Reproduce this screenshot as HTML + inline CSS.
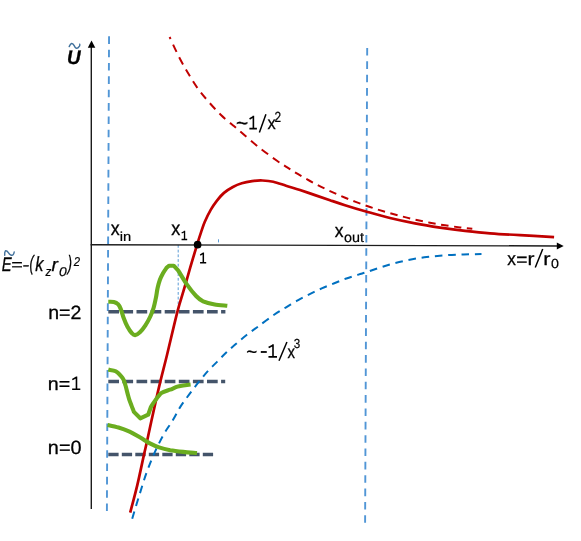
<!DOCTYPE html>
<html><head><meta charset="utf-8"><title>Potential diagram</title>
<style>
html,body{margin:0;padding:0;background:#fff;}
body{width:581px;height:541px;overflow:hidden;position:relative;font-family:"Liberation Sans",sans-serif;}
svg{position:absolute;left:0;top:0;display:block;}
text{font-family:"Liberation Sans",sans-serif;text-rendering:geometricPrecision;}
</style></head><body>
<svg width="581" height="541" viewBox="0 0 581 541">
<rect width="581" height="541" fill="#fff"/>
<!-- vertical light-blue dashed lines -->
<line x1="109.05" y1="36.3" x2="106.9" y2="511" stroke="#5196d6" stroke-width="1.9" stroke-dasharray="7.6 5.75"/>
<line x1="367.2" y1="48" x2="365.1" y2="524" stroke="#5196d6" stroke-width="1.9" stroke-dasharray="7.6 5.75"/>
<line x1="178.2" y1="245" x2="178.2" y2="304.7" stroke="#5b9bd5" stroke-width="1" stroke-dasharray="2.8 1.9"/>
<line x1="218.5" y1="239.3" x2="218.5" y2="242.4" stroke="#5b9bd5" stroke-width="1"/>
<!-- axes -->
<line x1="91.3" y1="509" x2="91.3" y2="46" stroke="#1c1c1c" stroke-width="1.4"/>
<polygon points="91.5,40.4 87.8,47.8 95.3,47.8" fill="#000"/>
<line x1="90.6" y1="244.75" x2="558" y2="245.95" stroke="#1c1c1c" stroke-width="1.4"/>
<polygon points="563.7,245.95 556.8,242.45 556.8,249.45" fill="#000"/>
<!-- dark dashed levels -->
<line x1="108.3" y1="311.7" x2="225.4" y2="311.7" stroke="#44546a" stroke-width="3.5" stroke-dasharray="10.7 3.4"/>
<line x1="108.3" y1="381.5" x2="225.2" y2="381.5" stroke="#44546a" stroke-width="3.5" stroke-dasharray="10.7 3.4"/>
<line x1="108.3" y1="454.6" x2="214.4" y2="454.6" stroke="#44546a" stroke-width="3.5" stroke-dasharray="10.3 3.2"/>
<!-- blue dashed -1/x^3 -->
<path d="M132.2,518.7 C133.4,514.8 136.9,502.9 139.3,495.3 C141.7,487.7 143.9,480.0 146.5,472.9 C149.1,465.8 151.7,459.1 154.6,452.6 C157.5,446.2 160.8,439.6 163.8,434.2 C166.9,428.8 170.2,424.6 172.9,420.0 C175.7,415.4 177.5,411.2 180.3,406.9 C183.1,402.5 186.5,398.1 189.6,393.9 C192.7,389.7 195.7,385.8 198.8,381.9 C201.9,378.0 205.0,374.2 208.1,370.8 C211.2,367.4 214.2,364.7 217.3,361.6 C220.4,358.5 223.4,355.2 226.5,352.3 C229.6,349.4 232.4,346.9 235.8,344.0 C239.2,341.1 243.2,337.7 246.9,334.8 C250.6,331.9 253.5,329.9 258.0,326.6 C262.5,323.3 269.4,318.0 274.1,314.8 C278.8,311.6 282.1,309.8 286.1,307.3 C290.1,304.9 294.2,302.3 298.2,300.1 C302.2,297.9 306.2,295.9 310.2,293.9 C314.2,291.9 318.3,289.9 322.3,288.1 C326.3,286.3 330.3,284.9 334.3,283.3 C338.3,281.7 342.4,279.9 346.4,278.5 C350.4,277.1 355.0,275.7 358.4,274.6 C361.8,273.5 362.5,273.4 366.9,272.0 C371.3,270.6 378.7,267.9 385.0,266.0 C391.3,264.1 398.1,262.2 404.6,260.8 C411.2,259.4 417.8,258.2 424.3,257.3 C430.9,256.4 437.4,255.9 443.9,255.4 C450.4,254.9 457.2,254.6 463.5,254.4 C469.8,254.2 478.5,254.1 481.5,254.0" fill="none" stroke="#0070c0" stroke-width="2" stroke-dasharray="7.6 5.75"/>
<!-- red dashed 1/x^2 -->
<path d="M169.6,37.0 C171.1,40.1 175.5,50.0 178.5,55.9 C181.5,61.8 184.6,67.3 187.7,72.5 C190.8,77.7 193.6,82.5 197.0,87.3 C200.4,92.1 204.1,96.6 208.1,101.2 C212.1,105.8 216.7,110.8 221.0,115.0 C225.3,119.2 230.7,123.4 233.9,126.1 C237.1,128.8 235.9,127.8 240.0,131.3 C244.1,134.8 252.3,142.1 258.5,147.0 C264.7,151.9 272.7,157.7 277.0,160.8 C281.3,163.9 281.1,163.5 284.1,165.4" fill="none" stroke="#c00000" stroke-width="2" stroke-dasharray="8 5.9" stroke-dashoffset="5.5"/>
<path d="M284.1,165.4 C287.1,167.3 290.7,169.8 295.0,172.4 C299.3,175.0 305.0,178.3 310.0,181.0 C315.0,183.7 320.0,186.3 325.0,188.7 C330.0,191.1 335.0,193.4 340.0,195.6 C345.0,197.8 350.0,199.7 355.0,201.6 C360.0,203.5 365.0,205.3 370.0,207.0 C375.0,208.7 380.0,210.3 385.0,211.8 C390.0,213.3 395.0,214.6 400.0,215.9 C405.0,217.2 410.0,218.5 415.0,219.6 C420.0,220.7 425.0,221.8 430.0,222.7 C435.0,223.6 440.0,224.5 445.0,225.3 C450.0,226.1 455.4,226.8 460.0,227.4 C464.6,228.0 470.2,228.5 472.3,228.7" fill="none" stroke="#c00000" stroke-width="2" stroke-dasharray="7.5 5.5"/>
<!-- red solid -->
<path d="M130.2,512.6 C131.4,508.0 135.0,494.8 137.3,485.1 C139.6,475.4 142.3,462.1 144.0,454.6 C145.7,447.1 145.6,447.9 147.3,440.0 C149.0,432.1 152.2,417.2 154.4,407.4 C156.6,397.5 158.4,389.6 160.5,380.9 C162.6,372.2 164.2,366.5 167.0,355.0 C169.8,343.5 174.5,323.0 177.3,312.1 C180.1,301.2 181.7,297.3 183.8,289.9 C186.0,282.5 188.0,275.2 190.2,267.7 C192.4,260.1 195.3,250.5 197.1,244.6 C198.9,238.7 199.8,235.9 201.1,232.1 C202.4,228.3 203.2,225.5 204.8,221.8 C206.4,218.1 208.7,213.4 210.7,209.9 C212.7,206.4 214.4,203.9 216.6,201.1 C218.8,198.3 221.3,195.2 224.0,192.9 C226.7,190.6 229.9,188.6 232.9,187.0 C235.9,185.4 238.6,184.3 241.8,183.3 C245.0,182.3 248.7,181.6 252.1,181.1 C255.5,180.6 259.0,180.4 262.5,180.5 C266.0,180.6 269.4,180.8 273.3,181.7 C277.2,182.6 281.6,184.3 286.0,185.7 C290.4,187.1 295.2,188.4 300.0,190.0 C304.8,191.6 310.0,193.4 315.0,195.1 C320.0,196.8 325.0,198.5 330.0,200.2 C335.0,201.9 339.0,203.3 345.0,205.2 C351.0,207.1 358.5,209.4 366.0,211.5 C373.5,213.6 381.8,216.0 390.0,218.0 C398.2,220.0 406.7,221.8 415.0,223.4 C423.3,225.0 431.7,226.4 440.0,227.7 C448.3,228.9 456.7,230.0 465.0,230.9 C473.3,231.8 480.8,232.6 490.0,233.3 C499.2,234.0 509.3,234.6 520.0,235.2 C530.7,235.8 548.4,236.8 554.1,237.1" fill="none" stroke="#c00000" stroke-width="2.7"/>
<!-- green wavefunctions -->
<path d="M108.3,301.8 C109.2,301.8 112.2,301.6 113.8,302.0 C115.4,302.4 116.8,303.0 117.9,304.1 C119.1,305.2 119.8,306.7 120.7,308.9 C121.6,311.1 122.3,314.2 123.4,317.2 C124.5,320.2 126.1,324.2 127.5,326.8 C128.9,329.4 130.4,331.6 131.7,333.0 C133.0,334.4 133.7,335.2 135.1,335.1 C136.5,335.0 138.2,333.9 139.9,332.3 C141.6,330.7 143.7,328.0 145.4,325.4 C147.1,322.8 148.9,319.5 150.3,316.5 C151.7,313.5 152.8,310.6 153.7,307.5 C154.6,304.4 155.2,301.1 155.9,297.9 C156.6,294.6 156.9,291.0 157.6,288.0 C158.3,285.0 159.0,282.3 159.9,279.8 C160.8,277.3 161.9,275.2 163.0,273.2 C164.1,271.2 166.1,268.5 166.7,267.6 L169.2,265.7 L173.7,265.7 L178.3,270.6 C179.4,272.4 184.4,281.0 186.8,284.4 C189.2,287.8 193.9,293.7 196.1,296.0 C198.3,298.3 200.6,300.2 203.1,301.3 C205.6,302.4 211.5,303.9 214.7,304.5 C217.9,305.1 225.6,305.5 227.3,305.7" fill="none" stroke="#6bad1f" stroke-width="4.1" stroke-linejoin="round"/>
<path d="M108.3,369.6 C109.4,369.9 113.8,370.3 115.7,371.3 C117.7,372.3 120.1,375.0 121.3,376.3 C122.5,377.6 123.1,378.6 123.7,380.0 C124.3,381.4 124.9,383.6 125.5,385.5 C126.1,387.4 126.8,390.8 127.4,392.9 C128.0,395.0 128.6,397.4 129.2,399.4 C129.8,401.3 130.9,404.0 131.6,405.9 C132.3,407.8 133.6,411.0 133.9,411.9 L140.3,418.3 L148.2,414.7 L151.0,406.8 C151.6,405.9 154.2,401.8 155.6,399.9 C157.0,398.0 159.7,394.3 161.6,392.9 C163.5,391.5 167.9,390.5 170.0,389.7 C172.1,388.9 175.6,387.2 177.4,386.6 C179.2,386.0 181.4,385.8 183.2,385.5 C185.0,385.2 189.6,384.6 190.6,384.5" fill="none" stroke="#6bad1f" stroke-width="4.1" stroke-linejoin="round"/>
<path d="M107.6,424.9 C109.4,425.3 114.8,426.4 118.5,427.5 C122.2,428.6 125.9,430.0 129.6,431.7 C133.3,433.4 137.3,435.9 140.7,437.8 C144.1,439.8 146.8,441.8 149.9,443.4 C153.0,445.0 155.7,446.3 159.1,447.4 C162.5,448.5 166.2,449.4 170.2,450.2 C174.2,450.9 178.7,451.4 183.2,451.9 C187.7,452.4 194.7,452.8 197.0,453.0" fill="none" stroke="#6bad1f" stroke-width="4.1" stroke-linejoin="round"/>
<circle cx="197.6" cy="244.7" r="3.85" fill="#000"/>
<!-- labels -->
<g opacity="0.999">
<text transform="translate(67.02,63.70) scale(0.1883,0.1978)" font-size="100" font-style="italic" font-weight="bold" fill="#000" stroke="#000" stroke-width="1.6">U</text>
<path d="M69.2,46.6 C69.9,45 70.6,43.7 71.6,43.5 C73.4,43.2 74,45.5 75,47.1 C75.8,48.4 77,48.6 78.2,47.6 C79.3,46.6 80.3,45.5 79.8,44.2" fill="none" stroke="#41719c" stroke-width="1.45" stroke-linecap="round"/>
<text transform="translate(236.06,130.22) scale(0.2081,0.2081)" font-size="100" fill="#000" stroke="#000" stroke-width="1.6">~</text>
<path d="M249.57,118.96 L253.39,116.59 M253.39,115.70 L253.39,129.30 M249.41,128.58 L256.90,128.58" fill="none" stroke="#000" stroke-width="1.6"/>
<line x1="259.38" y1="132.50" x2="265.93" y2="114.20" stroke="#000" stroke-width="1.5"/>
<text transform="translate(267.59,129.30) scale(0.1642,0.1782)" font-size="100" fill="#000" stroke="#000" stroke-width="1.6">x</text>
<text transform="translate(274.41,122.30) scale(0.1187,0.1477)" font-size="100" fill="#000" stroke="#000" stroke-width="1.6">2</text>
<text transform="translate(110.78,235.40) scale(0.1789,0.1972)" font-size="100" fill="#000" stroke="#000" stroke-width="1.6">x</text>
<text transform="translate(119.81,240.60) scale(0.1473,0.1310)" font-size="100" fill="#000" stroke="#000" stroke-width="1.6">in</text>
<text transform="translate(171.27,234.70) scale(0.1811,0.1972)" font-size="100" fill="#000" stroke="#000" stroke-width="1.6">x</text>
<path d="M181.65,233.03 L184.54,231.48 M184.54,230.80 L184.54,240.10 M181.54,239.49 L187.20,239.49" fill="none" stroke="#000" stroke-width="1.35"/>
<path d="M200.18,255.06 L203.32,253.18 M203.32,252.40 L203.32,263.50 M200.06,262.82 L206.20,262.82" fill="none" stroke="#000" stroke-width="1.5"/>
<text transform="translate(334.78,236.80) scale(0.1747,0.1896)" font-size="100" fill="#000" stroke="#000" stroke-width="1.6">x</text>
<text transform="translate(343.99,242.36) scale(0.1440,0.1389)" font-size="100" fill="#000" stroke="#000" stroke-width="1.6">out</text>
<text transform="translate(507.28,264.50) scale(0.1726,0.1858)" font-size="100" fill="#000" stroke="#000" stroke-width="1.6">x</text>
<text transform="translate(516.24,266.20) scale(0.1918,0.1918)" font-size="100" fill="#000" stroke="#000" stroke-width="1.6">=</text>
<text transform="translate(527.50,264.50) scale(0.2080,0.1823)" font-size="100" fill="#000" stroke="#000" stroke-width="1.6">r</text>
<line x1="535.27" y1="267.50" x2="542.73" y2="249.00" stroke="#000" stroke-width="1.5"/>
<text transform="translate(543.14,264.50) scale(0.2160,0.1823)" font-size="100" fill="#000" stroke="#000" stroke-width="1.6">r</text>
<text transform="translate(551.03,267.87) scale(0.1424,0.1314)" font-size="100" fill="#000" stroke="#000" stroke-width="1.6">0</text>
<text transform="translate(48.18,318.75) scale(0.1952,0.1928)" font-size="100" fill="#000" stroke="#000" stroke-width="1.6">n=2</text>
<text transform="translate(47.87,389.90) scale(0.1966,0.1823)" font-size="100" fill="#000" stroke="#000" stroke-width="1.6">n=</text>
<path d="M72.31,379.64 L76.47,377.28 M76.47,376.40 L76.47,389.90 M72.14,389.18 L80.30,389.18" fill="none" stroke="#000" stroke-width="1.6"/>
<text transform="translate(47.86,453.61) scale(0.1981,0.1922)" font-size="100" fill="#000" stroke="#000" stroke-width="1.6">n=0</text>
<text transform="translate(246.35,357.85) scale(0.1879,0.1879)" font-size="100" fill="#000" stroke="#000" stroke-width="1.6">~</text>
<text transform="translate(259.98,358.14) scale(0.2268,0.2268)" font-size="100" fill="#000" stroke="#000" stroke-width="1.6">-</text>
<path d="M268.63,347.49 L273.00,345.18 M273.00,344.30 L273.00,357.60 M268.46,356.88 L277.00,356.88" fill="none" stroke="#000" stroke-width="1.6"/>
<line x1="278.98" y1="360.80" x2="286.93" y2="342.00" stroke="#000" stroke-width="1.5"/>
<text transform="translate(287.41,357.60) scale(0.1495,0.1820)" font-size="100" fill="#000" stroke="#000" stroke-width="1.6">x</text>
<text transform="translate(293.87,347.97) scale(0.1158,0.1314)" font-size="100" fill="#000" stroke="#000" stroke-width="1.6">3</text>
<text transform="translate(1.65,270.70) scale(0.1488,0.1964)" font-size="100" font-style="italic" fill="#000" stroke="#000" stroke-width="1.6">E</text>
<text transform="translate(10.97,270.11) scale(0.1969,0.1615)" font-size="100" font-style="italic" fill="#000" stroke="#000" stroke-width="1.6">=</text>
<text transform="translate(22.20,270.19) scale(0.2097,0.1573)" font-size="100" font-style="italic" fill="#000" stroke="#000" stroke-width="1.6">-</text>
<text transform="translate(29.59,270.11) scale(0.1279,0.2070)" font-size="100" font-style="italic" fill="#000" stroke="#000" stroke-width="1.6">(</text>
<text transform="translate(35.32,270.60) scale(0.1627,0.2041)" font-size="100" font-style="italic" fill="#000" stroke="#000" stroke-width="1.6">k</text>
<text transform="translate(45.46,276.00) scale(0.1163,0.1327)" font-size="100" font-style="italic" fill="#000" stroke="#000" stroke-width="1.6">z</text>
<text transform="translate(51.56,270.60) scale(0.1914,0.1879)" font-size="100" font-style="italic" fill="#000" stroke="#000" stroke-width="1.6">r</text>
<text transform="translate(59.01,275.97) scale(0.1386,0.1272)" font-size="100" font-style="italic" fill="#000" stroke="#000" stroke-width="1.6">0</text>
<text transform="translate(67.81,270.11) scale(0.1279,0.2070)" font-size="100" font-style="italic" fill="#000" stroke="#000" stroke-width="1.6">)</text>
<text transform="translate(73.66,265.60) scale(0.1132,0.1290)" font-size="100" font-style="italic" fill="#000" stroke="#000" stroke-width="1.6">2</text>
<path d="M4.7,255.3 C4.6,253.5 4.7,251.6 5.4,250.9 C6.6,249.8 8.2,252.6 9.4,253.9 C10.8,255.4 12.3,255.8 13.2,254.6 C13.8,253.8 14.1,253 14.2,252" fill="none" stroke="#41719c" stroke-width="1.45" stroke-linecap="round"/>
</g>
</svg>
</body></html>
